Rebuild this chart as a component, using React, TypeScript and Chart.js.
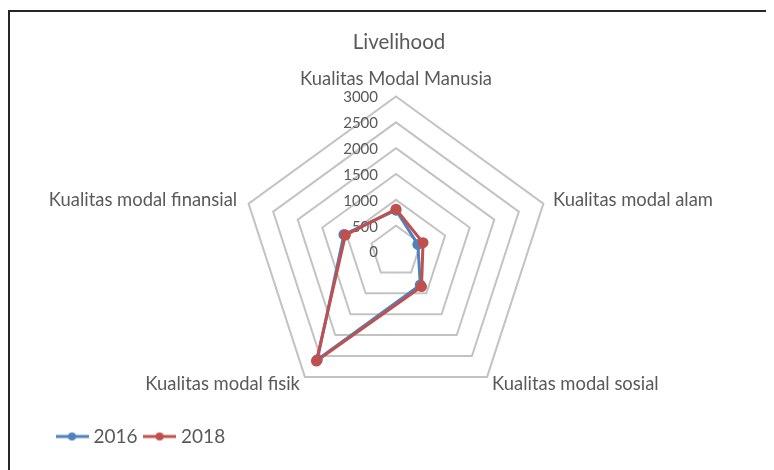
import React, { useEffect, useRef } from 'react';
import { Chart, registerables } from 'chart.js';

Chart.register(...registerables);

const categories = [
  'Kualitas Modal Manusia',
  'Kualitas modal alam',
  'Kualitas modal sosial',
  'Kualitas modal fisik',
  'Kualitas modal finansial',
];
const seriesNames = ['2016', '2018'];
const series2016 = [800, 445, 800, 2590, 1060];
const series2018 = [820, 550, 840, 2620, 1030];
const tickValues = [0, 500, 1000, 1500, 2000, 2500, 3000];

const BLUE = '#4F81BD';
const RED = '#C0504D';
const TEXT = '#595959';
const FONT = 'Lato';

// layout (canvas coordinates)
const CX = 388;
const CY = 243.5;
const RADIUS = 155;
const LABEL_PAD = [0, 10, 8.5, 8.5, 12];
const LABEL_SIZE = 18.4;

function makeMarker(color: string) {
  const c = document.createElement('canvas');
  c.width = 33;
  c.height = 10;
  const g = c.getContext('2d')!;
  g.strokeStyle = color;
  g.lineWidth = 3;
  g.beginPath();
  g.moveTo(0, 5);
  g.lineTo(33, 5);
  g.stroke();
  g.fillStyle = color;
  g.beginPath();
  g.arc(16.5, 5, 4, 0, Math.PI * 2);
  g.fill();
  return c;
}

export default function App() {
  const ref = useRef<HTMLCanvasElement>(null);

  useEffect(() => {
    const canvas = ref.current!;
    const markers = [makeMarker(BLUE), makeMarker(RED)];

    const tickPlugin = {
      id: 'excelTicks',
      beforeDatasetsDraw(chart: any) {
        const scale = chart.scales.r;
        const ctx = chart.ctx;
        ctx.save();
        ctx.font = `15px ${FONT}`;
        ctx.fillStyle = TEXT;
        ctx.textAlign = 'right';
        ctx.textBaseline = 'middle';
        scale.ticks.forEach((t: any) => {
          const d = scale.getDistanceFromCenterForValue(t.value);
          ctx.fillText(String(t.label), scale.xCenter - 18, scale.yCenter - d + 1);
        });
        ctx.restore();
      },
    };

    const chart = new Chart(canvas, {
      type: 'radar',
      data: {
        labels: categories,
        datasets: [
          {
            label: seriesNames[0],
            data: series2016,
            borderColor: BLUE,
            backgroundColor: BLUE,
            pointBackgroundColor: BLUE,
            pointBorderColor: BLUE,
            borderWidth: 3,
            pointRadius: 4,
            fill: false,
            order: 1,
          },
          {
            label: seriesNames[1],
            data: series2018,
            borderColor: RED,
            backgroundColor: RED,
            pointBackgroundColor: RED,
            pointBorderColor: RED,
            borderWidth: 3,
            pointRadius: 4,
            fill: false,
            order: 0,
          },
        ],
      },
      options: {
        responsive: false,
        animation: false,
        devicePixelRatio: 1,
        layout: { padding: { left: 42, right: 26, top: 0, bottom: 14 } },
        plugins: {
          tooltip: { enabled: false },
          title: {
            display: true,
            text: 'Livelihood',
            color: TEXT,
            font: { family: FONT, size: 20.5, weight: 'normal' },
            padding: { top: 22, bottom: 0 },
          },
          legend: {
            position: 'bottom',
            align: 'start',
            labels: {
              usePointStyle: true,
              pointStyleWidth: 24,
              boxHeight: 10,
              padding: 10,
              color: TEXT,
              font: { family: FONT, size: 19 },
              generateLabels: (ch: any) =>
                ch.data.datasets.map((ds: any, i: number) => ({
                  text: ds.label,
                  pointStyle: markers[i],
                  fillStyle: ds.borderColor,
                  strokeStyle: ds.borderColor,
                  lineWidth: 0,
                  hidden: false,
                  datasetIndex: i,
                  fontColor: TEXT,
                })),
            },
          },
        },
        scales: {
          r: {
            min: 0,
            max: 3000,
            angleLines: { display: false },
            grid: { color: '#c3c3c3', lineWidth: 2, circular: false },
            ticks: { display: false, stepSize: 500, callback: (v: any) => String(v) },
            afterBuildTicks: (scale: any) => {
              scale.ticks = tickValues.map((v) => ({ value: v, label: String(v) }));
            },
            pointLabels: {
              display: true,
              color: TEXT,
              font: { family: FONT, size: LABEL_SIZE },
            },
            afterFit: (scale: any) => {
              scale.xCenter = CX;
              scale.yCenter = CY;
              scale.drawingArea = RADIUS;
              const ctx = scale.ctx;
              ctx.save();
              ctx.font = `${LABEL_SIZE}px ${FONT}`;
              const lh = LABEL_SIZE * 1.2;
              scale._pointLabelItems = categories.map((lbl, i) => {
                const w = ctx.measureText(lbl).width;
                let x: number, y: number, align: string, left: number;
                if (i === 0) {
                  const p = scale.getPointPosition(i, RADIUS + 6);
                  x = p.x;
                  y = p.y - lh;
                  align = 'center';
                  left = x - w / 2;
                } else {
                  const p = scale.getPointPosition(i, RADIUS + LABEL_PAD[i]);
                  x = p.x;
                  y = p.y - lh / 2;
                  align = i <= 2 ? 'left' : 'right';
                  left = align === 'left' ? x : x - w;
                }
                return { visible: true, x, y, textAlign: align, left, top: y, right: left + w, bottom: y + lh };
              });
              ctx.restore();
            },
          },
        },
      } as any,
      plugins: [tickPlugin],
    });
    return () => chart.destroy();
  }, []);

  return (
    <div style={{ position: 'relative', width: 766, height: 462 }}>
      <div
        style={{
          position: 'absolute',
          left: 0,
          top: 2,
          width: 766,
          height: 460,
          borderTop: '2px solid #262626',
          borderLeft: '2px solid #262626',
          boxSizing: 'border-box',
        }}
      />
      <canvas ref={ref} width={766} height={462} style={{ position: 'absolute', left: 0, top: 0 }} />
    </div>
  );
}
